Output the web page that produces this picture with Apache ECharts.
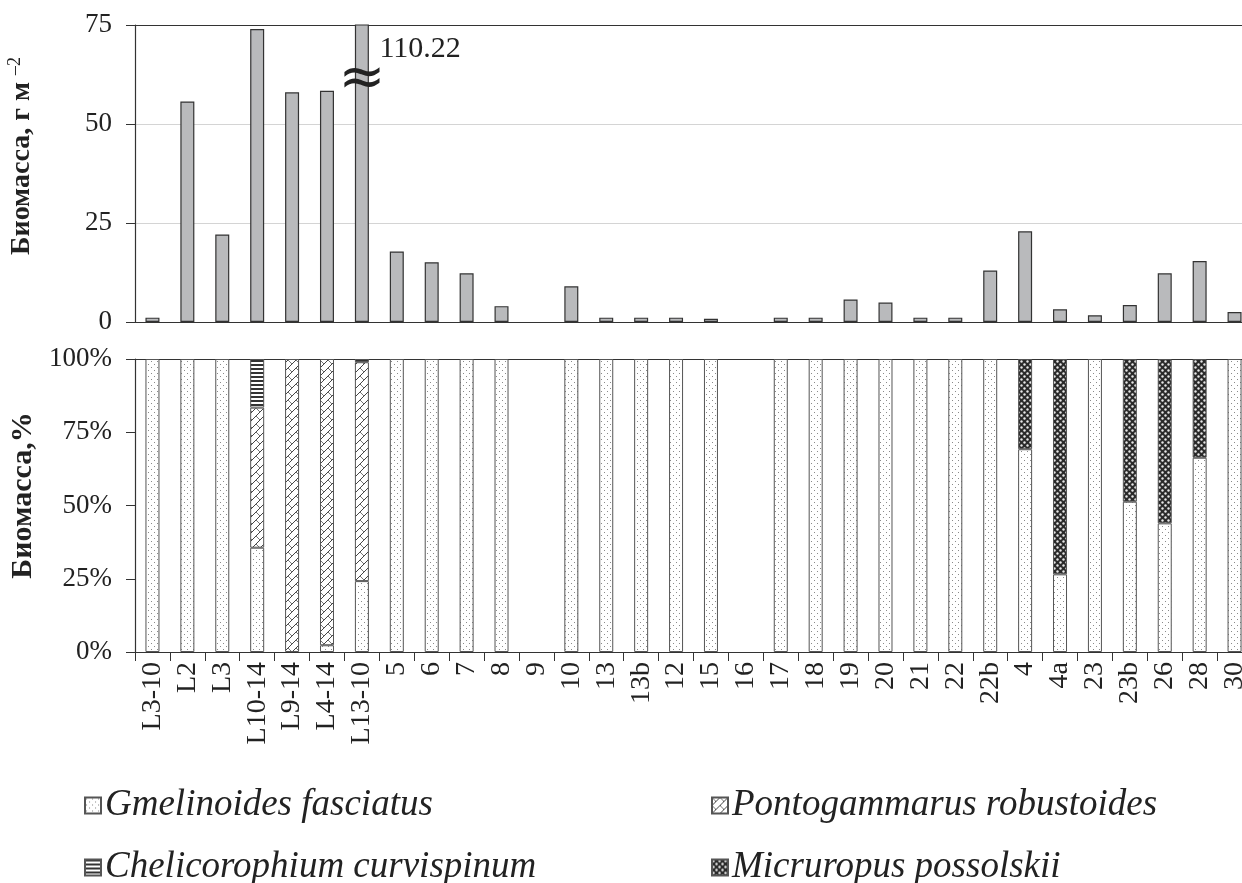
<!DOCTYPE html>
<html><head><meta charset="utf-8">
<script src="https://cdn.jsdelivr.net/npm/echarts@6/dist/echarts.min.js"></script>
<style>html,body{margin:0;padding:0;background:#fff}#c{width:1242px;height:883px}</style>
</head><body><div id="c"></div>
<script>
const categories = ['L3-10','L2','L3','L10-14','L9-14','L4-14','L13-10','5','6','7','8','9','10','13','13b','12','15','16','17','18','19','20','21','22','22b','4','4a','23','23b','26','28','30'];
const biomass = [1.1,55.7,22.1,74,58,58.4,110.22,17.8,15.1,12.3,4.0,null,9.0,1.1,1.1,1.1,0.8,null,1.1,1.1,5.7,4.9,1.1,1.1,13.0,22.9,3.2,1.7,4.3,12.3,15.4,2.5];
const gmelinoides = [100,100,100,35.6,null,2.3,24.2,100,100,100,100,null,100,100,100,100,100,null,100,100,100,100,100,100,100,69.2,26.5,100,51.3,43.9,66.3,100];
const pontogammarus = [null,null,null,47.8,100,97.7,74.7,null,null,null,null,null,null,null,null,null,null,null,null,null,null,null,null,null,null,null,null,null,null,null,null,null];
const chelicorophium = [null,null,null,16.6,null,null,1.1,null,null,null,null,null,null,null,null,null,null,null,null,null,null,null,null,null,null,null,null,null,null,null,null,null];
const micruropus = [null,null,null,null,null,null,null,null,null,null,null,null,null,null,null,null,null,null,null,null,null,null,null,null,null,30.8,73.5,null,48.7,56.1,33.7,null];
const seriesNames = ['Gmelinoides fasciatus','Pontogammarus robustoides','Chelicorophium curvispinum','Micruropus possolskii'];
const topTicks = [0,25,50,75];

const SERIF = '"Liberation Serif","DejaVu Serif",serif';

function mk(w,h,draw){const c=document.createElement('canvas');c.width=w;c.height=h;const g=c.getContext('2d');draw(g);return {image:c,repeat:'repeat'};}
const patGmel = mk(6,6,g=>{g.fillStyle='#fff';g.fillRect(0,0,6,6);g.fillStyle='#8a8a8a';g.fillRect(1,1,1,1);g.fillRect(4,4,1,1);});
const patPont = mk(8,8,g=>{g.fillStyle='#fff';g.fillRect(0,0,8,8);g.strokeStyle='#444';g.lineWidth=1;
  g.beginPath();g.moveTo(0,8);g.lineTo(8,0);g.stroke();
  g.strokeStyle='#777';g.beginPath();g.moveTo(0,0);g.lineTo(4,4);g.stroke();});
const patChel = mk(4,4,g=>{g.fillStyle='#fff';g.fillRect(0,0,4,4);g.fillStyle='#333';g.fillRect(0,0,4,2);});
const patMicr = mk(6,6,g=>{g.fillStyle='#2a2a2a';g.fillRect(0,0,6,6);g.fillStyle='#e8e8e8';
  g.beginPath();g.arc(1.5,1.5,1.2,0,Math.PI*2);g.fill();g.beginPath();g.arc(4.5,4.5,1.2,0,Math.PI*2);g.fill();});
const patterns = [patGmel,patPont,patChel,patMicr];
const pctData = [gmelinoides,pontogammarus,chelicorophium,micruropus];

const breakIdx = biomass.findIndex(v=>v!==null && v>topTicks[topTicks.length-1]);

const legendPos = [[84,787],[711,787],[84,849],[711,849]];
function legendFor(i){
  return {orient:'horizontal', left:legendPos[i][0], top:legendPos[i][1], itemWidth:16, itemHeight:16, icon:'rect', selectedMode:false,
    data:[seriesNames[i]], padding:0,
    textStyle:{fontSize:37, fontStyle:'italic', color:'#222', fontFamily:SERIF, padding:[0,0,0,-1]}};
}

const chart = echarts.init(document.getElementById('c'),null,{renderer:'canvas'});
const gridW = 1117;
const option = {
  animation:false,
  backgroundColor:'#fff',
  textStyle:{fontFamily:SERIF},
  grid:[
    {left:135, top:25, width:gridW, height:297, outerBoundsMode:'none', containLabel:false},
    {left:135, top:359, width:gridW, height:293, outerBoundsMode:'none', containLabel:false}
  ],
  xAxis:[
    {type:'category', gridIndex:0, data:categories, boundaryGap:true,
     axisLine:{lineStyle:{color:'#333',width:1.2}}, axisTick:{show:false}, axisLabel:{show:false}},
    {type:'category', gridIndex:1, data:categories, boundaryGap:true,
     axisLine:{lineStyle:{color:'#333',width:1.2}},
     axisTick:{show:true, interval:0, length:9, lineStyle:{color:'#333'}},
     axisLabel:{interval:0, rotate:90, margin:10, fontSize:28, color:'#222', fontFamily:SERIF, hideOverlap:false}}
  ],
  yAxis:[
    {type:'value', gridIndex:0, min:topTicks[0], max:topTicks[topTicks.length-1], interval:25,
     axisLine:{show:true, lineStyle:{color:'#333',width:1.2}},
     axisTick:{show:true, length:9, lineStyle:{color:'#333'}},
     axisLabel:{fontSize:27, color:'#222', margin:23, fontFamily:SERIF},
     splitLine:{show:true, lineStyle:{color:['transparent','#d4d4d4','#d4d4d4','#333'], width:1.2}},
     name:'Биомасса, г м {sup|–2}', nameLocation:'middle', nameGap:97, nameRotate:90,
     nameTextStyle:{fontSize:28, fontWeight:'bold', color:'#222', fontFamily:SERIF, padding:[0,0,0,35],
       rich:{sup:{fontSize:18, fontWeight:'normal', color:'#222', fontFamily:SERIF, verticalAlign:'top', padding:[0,0,14,0]}}}},
    {type:'value', gridIndex:1, min:0, max:100, interval:25,
     axisLine:{show:true, lineStyle:{color:'#333',width:1.2}},
     axisTick:{show:true, length:9, lineStyle:{color:'#333'}},
     axisLabel:{fontSize:27, color:'#222', margin:23, fontFamily:SERIF, formatter:'{value}%'},
     splitLine:{show:true, lineStyle:{color:['transparent','transparent','transparent','transparent','#333'], width:1.2}},
     name:'Биомасса,%', nameLocation:'middle', nameGap:97, nameRotate:90,
     nameTextStyle:{fontSize:30, fontWeight:'bold', color:'#222', fontFamily:SERIF, padding:[0,0,0,20]}}
  ],
  legend:[legendFor(0),legendFor(1),legendFor(2),legendFor(3)],
  series:[
    {type:'bar', name:'total', xAxisIndex:0, yAxisIndex:0, data:biomass, barWidth:14, clip:true,
     itemStyle:{color:'#b9babc', borderColor:'#333', borderWidth:1.2},
     markPoint:{symbol:'rect', symbolSize:1, silent:true, itemStyle:{color:'transparent'},
       data:[
         {coord:[categories[breakIdx], topTicks[topTicks.length-1]], value:biomass[breakIdx],
          label:{show:true, formatter:p=>String(p.value), position:'right', offset:[12,24], fontSize:30, color:'#222', fontFamily:SERIF}},
         {coord:[categories[breakIdx], 61], value:0,
          label:{show:true, formatter:'≈', position:'inside', fontSize:56, color:'#222', fontFamily:'"DejaVu Sans",sans-serif'}}
       ]}}
  ].concat(seriesNames.map((n,i)=>({
    type:'bar', name:n, xAxisIndex:1, yAxisIndex:1, stack:'pct', data:pctData[i], barWidth:14,
    itemStyle:{color:patterns[i], borderColor:'#555', borderWidth:1}
  })))
};
chart.setOption(option);
</script></body></html>
